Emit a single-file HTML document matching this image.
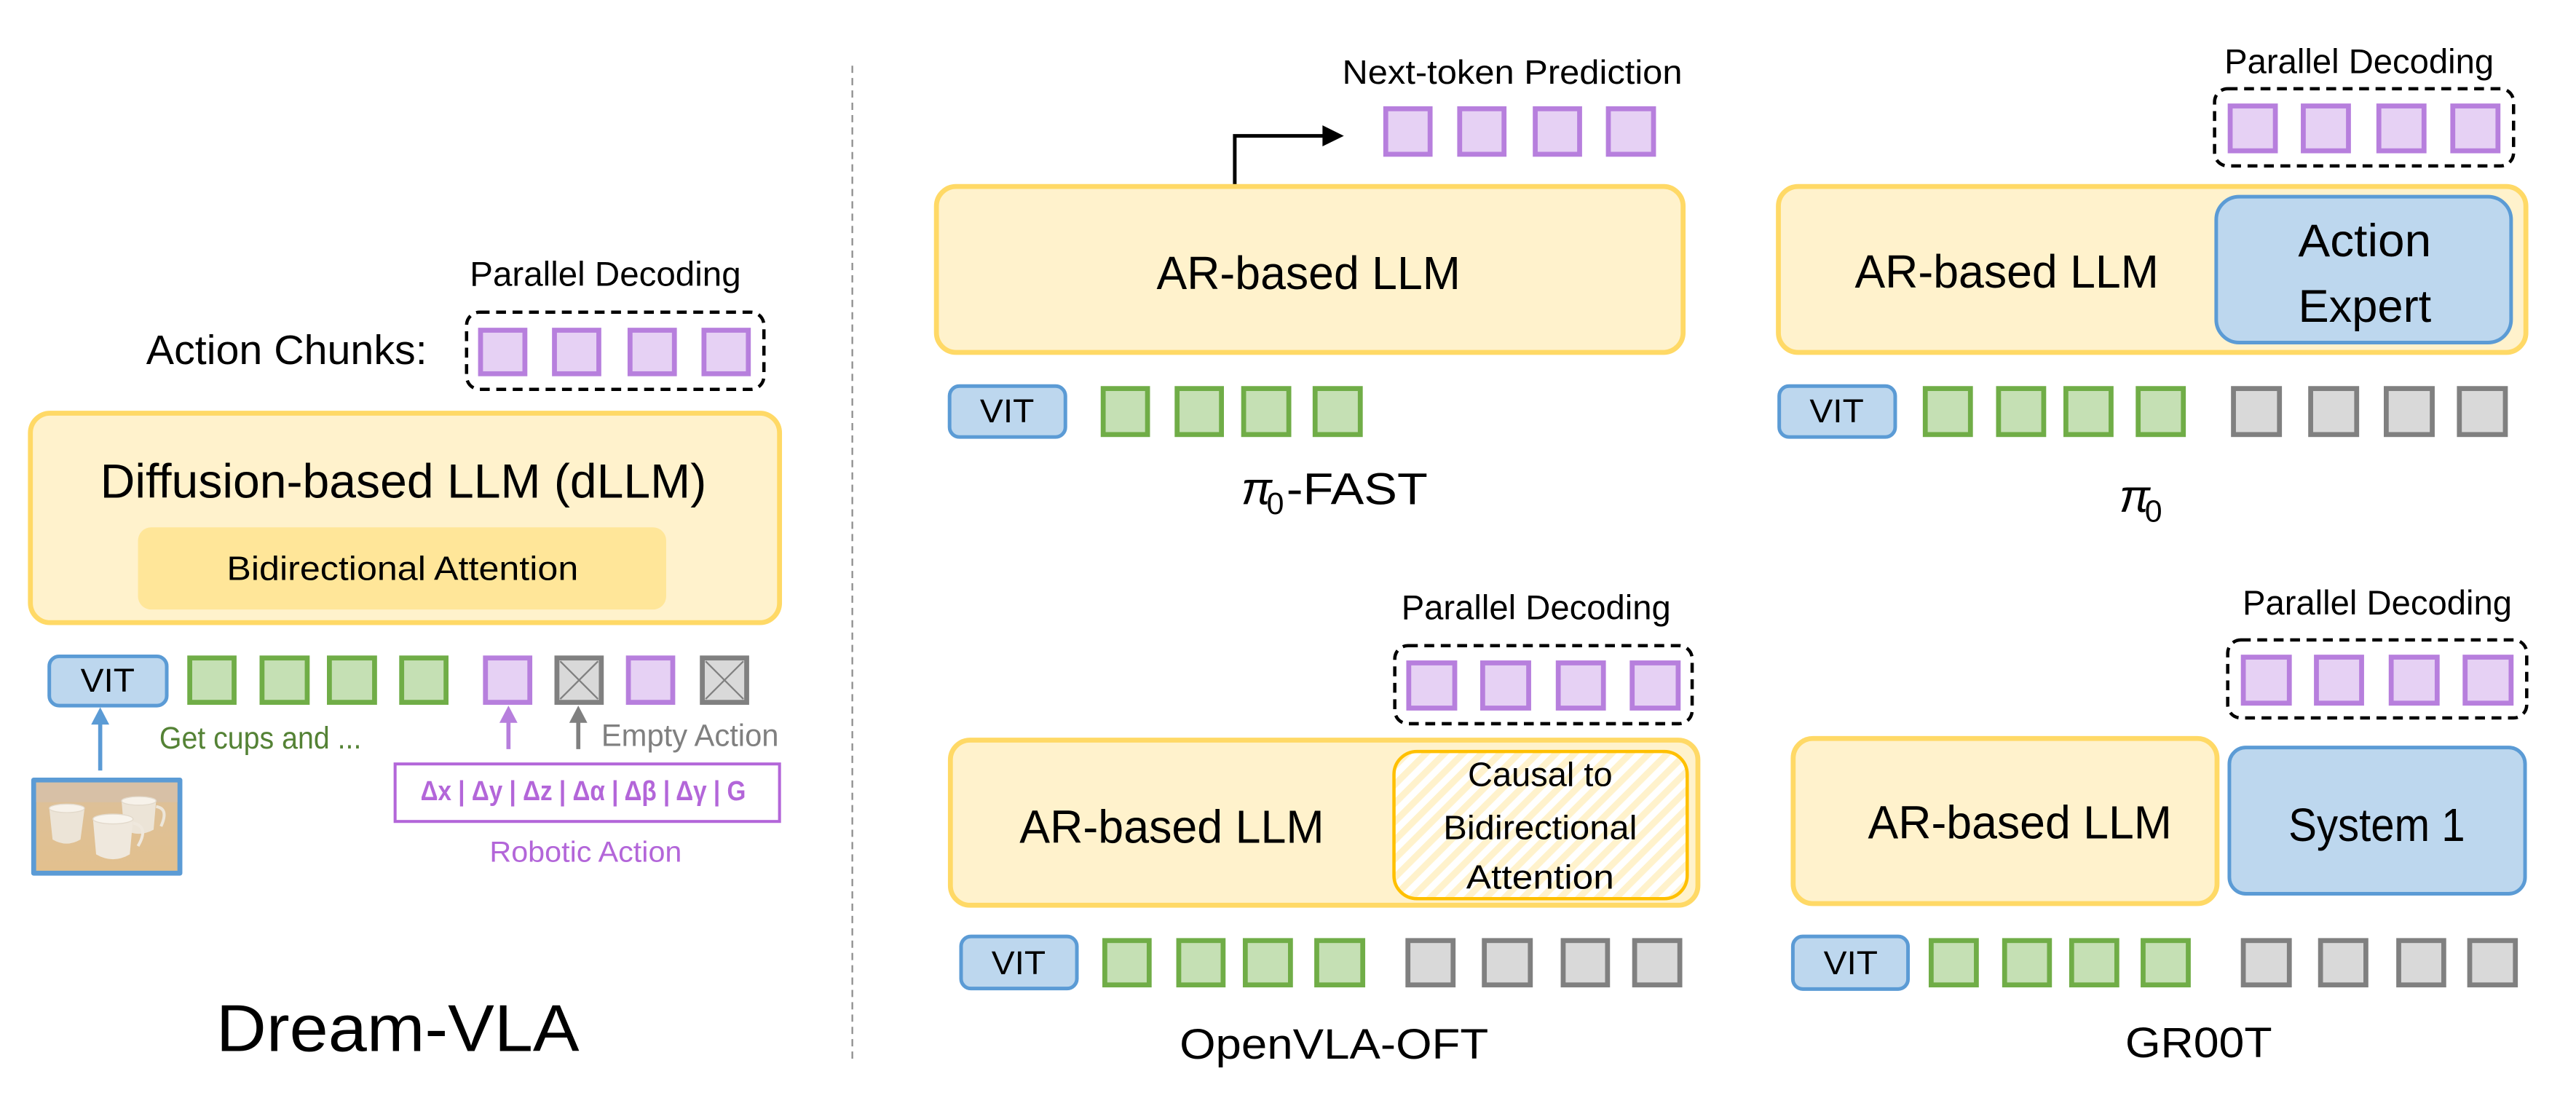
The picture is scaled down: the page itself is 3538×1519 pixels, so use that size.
<!DOCTYPE html>
<html><head><meta charset="utf-8"><style>
html,body{margin:0;padding:0;background:#fff;}
svg{display:block;}
text{font-family:"Liberation Sans Narrow","Liberation Sans",sans-serif;}
</style></head><body>
<svg width="3538" height="1519" viewBox="0 0 1568 673.2" xmlns="http://www.w3.org/2000/svg">
<defs>
<pattern id="hatch" patternUnits="userSpaceOnUse" width="8" height="8" patternTransform="rotate(45)">
<rect width="8" height="8" fill="#ffffff"/>
<rect width="4" height="8" fill="#fff2cc"/>
</pattern>
<linearGradient id="table" x1="0" y1="0" x2="0" y2="1"><stop offset="0" stop-color="#dcc09a"/><stop offset="1" stop-color="#e2c08e"/></linearGradient>
</defs>
<rect width="1568" height="673.2" fill="#fff"/>

<line x1="518.8" y1="40" x2="518.8" y2="646" stroke="#8c8c8c" stroke-width="1" stroke-dasharray="4.4 3.1"/>

<!-- ===== LEFT: Dream-VLA ===== -->
<text x="286" y="174" font-size="21" textLength="165" lengthAdjust="spacingAndGlyphs">Parallel Decoding</text>
<text x="89" y="221.5" font-size="25" textLength="171" lengthAdjust="spacingAndGlyphs">Action Chunks:</text>
<rect x="284" y="190" width="181" height="47" rx="8" fill="none" stroke="#000" stroke-width="2" stroke-dasharray="6 4"/>
<g fill="#e6d1f4" stroke="#b77fdd" stroke-width="3">
<rect x="292.5" y="201" width="27" height="26.5"/>
<rect x="337.5" y="201" width="27" height="26.5"/>
<rect x="383.5" y="201" width="27" height="26.5"/>
<rect x="428.5" y="201" width="27" height="26.5"/>
</g>
<rect x="18.5" y="251.5" width="456" height="127.5" rx="12" fill="#fff2cc" stroke="#ffd966" stroke-width="3"/>
<text x="61" y="303" font-size="29" textLength="369" lengthAdjust="spacingAndGlyphs">Diffusion-based LLM (dLLM)</text>
<rect x="84" y="321" width="321.5" height="50" rx="8" fill="#ffe699"/>
<text x="138" y="353" font-size="20.5" textLength="214" lengthAdjust="spacingAndGlyphs">Bidirectional Attention</text>

<rect x="30" y="399.5" width="71.5" height="30" rx="6" fill="#bdd7ee" stroke="#5b9bd5" stroke-width="2.2"/>
<text x="65.5" y="421" font-size="20" text-anchor="middle" textLength="33" lengthAdjust="spacingAndGlyphs">VIT</text>
<g fill="#c5e0b4" stroke="#70ad47" stroke-width="3">
<rect x="115.5" y="400.5" width="27" height="27"/>
<rect x="159.5" y="400.5" width="27.5" height="27"/>
<rect x="200.5" y="400.5" width="27.5" height="27"/>
<rect x="244.5" y="400.5" width="27" height="27"/>
</g>
<g fill="#e6d1f4" stroke="#b77fdd" stroke-width="3">
<rect x="295.5" y="400.5" width="27" height="27"/>
<rect x="382.5" y="400.5" width="27" height="27"/>
</g>
<g fill="#d9d9d9" stroke="#808080" stroke-width="3">
<rect x="339" y="400.5" width="27" height="27"/>
<rect x="427.5" y="400.5" width="27" height="27"/>
</g>
<g stroke="#808080" stroke-width="1">
<line x1="341" y1="402.5" x2="364" y2="425.5"/><line x1="364" y1="402.5" x2="341" y2="425.5"/>
<line x1="429.5" y1="402.5" x2="452.5" y2="425.5"/><line x1="452.5" y1="402.5" x2="429.5" y2="425.5"/>
</g>
<line x1="61" y1="469" x2="61" y2="438" stroke="#5b9bd5" stroke-width="2.5"/>
<path d="M55.5,441 L61,430.5 L66.5,441 z" fill="#5b9bd5"/>
<line x1="309.5" y1="456" x2="309.5" y2="437" stroke="#b77fdd" stroke-width="2.5"/>
<path d="M304,440 L309.5,429.5 L315,440 z" fill="#b77fdd"/>
<line x1="352" y1="456" x2="352" y2="437" stroke="#808080" stroke-width="2.5"/>
<path d="M346.5,440 L352,429.5 L357.5,440 z" fill="#808080"/>

<text x="97" y="455.5" font-size="19" fill="#548235" textLength="123" lengthAdjust="spacingAndGlyphs">Get cups and ...</text>
<text x="366" y="454" font-size="19" fill="#808080" textLength="108" lengthAdjust="spacingAndGlyphs">Empty Action</text>
<rect x="240.5" y="465" width="234" height="35" fill="#fff" stroke="#b366d9" stroke-width="1.8"/>
<text x="256" y="487" font-size="17" font-weight="bold" fill="#b366d9" textLength="198" lengthAdjust="spacingAndGlyphs">Δx | Δy | Δz | Δα | Δβ | Δγ | G</text>
<text x="298" y="524.6" font-size="17.5" fill="#b366d9" textLength="117" lengthAdjust="spacingAndGlyphs">Robotic Action</text>

<!-- photo -->
<g>
<rect x="19" y="473.3" width="92" height="59.7" rx="1.5" fill="#5b9bd5"/>
<rect x="22" y="476.3" width="86" height="53.7" fill="url(#table)"/>
<rect x="22" y="476.3" width="86" height="12" fill="#d7c0a6"/>
<!-- back right mug -->
<path d="M95,491 Q103,492 98,503" fill="none" stroke="#ede6da" stroke-width="1.8"/>
<path d="M74,487.5 L75.5,505 Q84.5,510 93.5,505 L95,487.5 z" fill="#ece4d7"/>
<ellipse cx="84.5" cy="487.5" rx="10.5" ry="2.6" fill="#f7f2ea" stroke="#e2d9cb" stroke-width="0.6"/>
<!-- left cup -->
<path d="M30,492 L32,511 Q40.5,516 49,511 L51.5,492 z" fill="#ece4d7"/>
<ellipse cx="40.7" cy="492" rx="10.7" ry="2.6" fill="#f7f2ea" stroke="#e2d9cb" stroke-width="0.6"/>
<!-- front mug -->
<path d="M81,501 Q91,503 84,515" fill="none" stroke="#efe8dd" stroke-width="1.8"/>
<path d="M56.6,498.5 L58.5,520 Q68.8,526 79,520 L81,498.5 z" fill="#efe8dd"/>
<ellipse cx="68.8" cy="498.5" rx="12.2" ry="3" fill="#f8f4ed" stroke="#e2d9cb" stroke-width="0.6"/>
</g>

<text x="131.6" y="639.8" font-size="40.5" textLength="221" lengthAdjust="spacingAndGlyphs">Dream-VLA</text>

<!-- ===== pi0-FAST ===== -->
<text x="817" y="51" font-size="20.5" textLength="207" lengthAdjust="spacingAndGlyphs">Next-token Prediction</text>
<g fill="#e6d1f4" stroke="#b77fdd" stroke-width="3">
<rect x="843.5" y="66.2" width="27" height="27.7"/>
<rect x="888.5" y="66.2" width="27" height="27.7"/>
<rect x="934.5" y="66.2" width="27" height="27.7"/>
<rect x="979" y="66.2" width="27.5" height="27.7"/>
</g>
<path d="M751.6,113 L751.6,82.7 L807,82.7" fill="none" stroke="#000" stroke-width="2.2"/>
<path d="M805,76.3 L818,82.7 L805,89.1 z" fill="#000"/>
<rect x="570" y="113.5" width="454.5" height="101" rx="12" fill="#fff2cc" stroke="#ffd966" stroke-width="3"/>
<text x="704" y="176" font-size="28.5" textLength="185" lengthAdjust="spacingAndGlyphs">AR-based LLM</text>
<rect x="578" y="235" width="70.5" height="31" rx="6" fill="#bdd7ee" stroke="#5b9bd5" stroke-width="2.2"/>
<text x="613" y="257" font-size="20" text-anchor="middle" textLength="33" lengthAdjust="spacingAndGlyphs">VIT</text>
<g fill="#c5e0b4" stroke="#70ad47" stroke-width="3">
<rect x="671.5" y="236.5" width="27" height="28"/>
<rect x="716.5" y="236.5" width="27" height="28"/>
<rect x="757" y="236.5" width="27.5" height="28"/>
<rect x="800.5" y="236.5" width="27.5" height="28"/>
</g>
<text x="755.5" y="307" font-size="28" font-family="'Liberation Serif',serif" font-style="italic">π</text>
<text x="771" y="313" font-size="19" font-family="'Liberation Serif',serif">0</text>
<text x="783" y="307" font-size="27" textLength="86" lengthAdjust="spacingAndGlyphs">-FAST</text>

<!-- ===== pi0 ===== -->
<text x="1354" y="44.5" font-size="21" textLength="164" lengthAdjust="spacingAndGlyphs">Parallel Decoding</text>
<rect x="1348" y="54" width="182" height="47" rx="8" fill="none" stroke="#000" stroke-width="2" stroke-dasharray="6 4"/>
<g fill="#e6d1f4" stroke="#b77fdd" stroke-width="3">
<rect x="1357.5" y="64.5" width="27.5" height="27.3"/>
<rect x="1402" y="64.5" width="27.5" height="27.3"/>
<rect x="1448" y="64.5" width="27.5" height="27.3"/>
<rect x="1493" y="64.5" width="27.5" height="27.3"/>
</g>
<rect x="1082.5" y="113.5" width="455" height="101" rx="12" fill="#fff2cc" stroke="#ffd966" stroke-width="3"/>
<rect x="1349" y="119.7" width="179.5" height="88.8" rx="14" fill="#bdd7ee" stroke="#5b9bd5" stroke-width="2.2"/>
<text x="1129" y="175" font-size="28.5" textLength="185" lengthAdjust="spacingAndGlyphs">AR-based LLM</text>
<text x="1439.4" y="156" font-size="28" text-anchor="middle" textLength="81" lengthAdjust="spacingAndGlyphs">Action</text>
<text x="1439.4" y="196" font-size="28" text-anchor="middle" textLength="81" lengthAdjust="spacingAndGlyphs">Expert</text>
<rect x="1083" y="235" width="70.6" height="31" rx="6" fill="#bdd7ee" stroke="#5b9bd5" stroke-width="2.2"/>
<text x="1118" y="257" font-size="20" text-anchor="middle" textLength="33" lengthAdjust="spacingAndGlyphs">VIT</text>
<g fill="#c5e0b4" stroke="#70ad47" stroke-width="3">
<rect x="1171.9" y="236.5" width="27.5" height="28"/>
<rect x="1216.5" y="236.5" width="27.5" height="28"/>
<rect x="1257.5" y="236.5" width="27.5" height="28"/>
<rect x="1301.5" y="236.5" width="27.5" height="28"/>
</g>
<g fill="#d9d9d9" stroke="#808080" stroke-width="3">
<rect x="1359.5" y="236.5" width="28" height="28"/>
<rect x="1406.5" y="236.5" width="28" height="28"/>
<rect x="1452.5" y="236.5" width="28" height="28"/>
<rect x="1497" y="236.5" width="28" height="28"/>
</g>
<text x="1290" y="311.6" font-size="28" font-family="'Liberation Serif',serif" font-style="italic">π</text>
<text x="1305.5" y="317.6" font-size="19" font-family="'Liberation Serif',serif">0</text>

<!-- ===== OpenVLA-OFT ===== -->
<text x="853" y="377" font-size="21" textLength="164" lengthAdjust="spacingAndGlyphs">Parallel Decoding</text>
<rect x="849" y="393" width="181" height="47.5" rx="8" fill="none" stroke="#000" stroke-width="2" stroke-dasharray="6 4"/>
<g fill="#e6d1f4" stroke="#b77fdd" stroke-width="3">
<rect x="857.5" y="403.5" width="28" height="27.5"/>
<rect x="902.5" y="403.5" width="28" height="27.5"/>
<rect x="948.5" y="403.5" width="27.5" height="27.5"/>
<rect x="993.5" y="403.5" width="28" height="27.5"/>
</g>
<rect x="578.5" y="450.5" width="455" height="100.5" rx="12" fill="#fff2cc" stroke="#ffd966" stroke-width="3"/>
<rect x="848.5" y="457.4" width="178.5" height="89.6" rx="14" fill="url(#hatch)" stroke="#ffc000" stroke-width="2"/>
<text x="620.6" y="513" font-size="28.5" textLength="185.4" lengthAdjust="spacingAndGlyphs">AR-based LLM</text>
<text x="937.5" y="478.4" font-size="20.5" text-anchor="middle" textLength="88" lengthAdjust="spacingAndGlyphs">Causal to</text>
<text x="937.5" y="510.7" font-size="20.5" text-anchor="middle" textLength="118" lengthAdjust="spacingAndGlyphs">Bidirectional</text>
<text x="937.5" y="541" font-size="20.5" text-anchor="middle" textLength="90" lengthAdjust="spacingAndGlyphs">Attention</text>
<rect x="585" y="570" width="70.5" height="31.7" rx="6" fill="#bdd7ee" stroke="#5b9bd5" stroke-width="2.2"/>
<text x="620" y="593" font-size="20" text-anchor="middle" textLength="33" lengthAdjust="spacingAndGlyphs">VIT</text>
<g fill="#c5e0b4" stroke="#70ad47" stroke-width="3">
<rect x="672.5" y="572.5" width="27" height="27"/>
<rect x="717.5" y="572.5" width="27" height="27"/>
<rect x="758" y="572.5" width="27.5" height="27"/>
<rect x="801.5" y="572.5" width="28" height="27"/>
</g>
<g fill="#d9d9d9" stroke="#808080" stroke-width="3">
<rect x="857" y="572.5" width="27.5" height="27"/>
<rect x="903.5" y="572.5" width="28" height="27"/>
<rect x="951.5" y="572.5" width="27" height="27"/>
<rect x="995" y="572.5" width="27.5" height="27"/>
</g>
<text x="718" y="644.5" font-size="26" textLength="188" lengthAdjust="spacingAndGlyphs">OpenVLA-OFT</text>

<!-- ===== GR00T ===== -->
<text x="1365" y="374" font-size="21" textLength="164" lengthAdjust="spacingAndGlyphs">Parallel Decoding</text>
<rect x="1356" y="389.5" width="182" height="47.5" rx="8" fill="none" stroke="#000" stroke-width="2" stroke-dasharray="6 4"/>
<g fill="#e6d1f4" stroke="#b77fdd" stroke-width="3">
<rect x="1365.5" y="400" width="28" height="28"/>
<rect x="1410" y="400" width="27.5" height="28"/>
<rect x="1455.5" y="400" width="28" height="28"/>
<rect x="1500.5" y="400" width="28" height="28"/>
</g>
<rect x="1091.5" y="449.5" width="258" height="100.5" rx="12" fill="#fff2cc" stroke="#ffd966" stroke-width="3"/>
<rect x="1357" y="455" width="180" height="89" rx="10" fill="#bdd7ee" stroke="#5b9bd5" stroke-width="2.2"/>
<text x="1137" y="510.3" font-size="28.5" textLength="185" lengthAdjust="spacingAndGlyphs">AR-based LLM</text>
<text x="1393" y="511.8" font-size="28.5" textLength="107.5" lengthAdjust="spacingAndGlyphs">System 1</text>
<rect x="1091.3" y="570" width="70.1" height="32" rx="6" fill="#bdd7ee" stroke="#5b9bd5" stroke-width="2.2"/>
<text x="1126.5" y="593" font-size="20" text-anchor="middle" textLength="33" lengthAdjust="spacingAndGlyphs">VIT</text>
<g fill="#c5e0b4" stroke="#70ad47" stroke-width="3">
<rect x="1175.5" y="572.5" width="27.5" height="27"/>
<rect x="1220.2" y="572.5" width="27.3" height="27"/>
<rect x="1261" y="572.5" width="27.5" height="27"/>
<rect x="1304.5" y="572.5" width="27.5" height="27"/>
</g>
<g fill="#d9d9d9" stroke="#808080" stroke-width="3">
<rect x="1365.5" y="572.5" width="28" height="27"/>
<rect x="1412.5" y="572.5" width="27.6" height="27"/>
<rect x="1460.1" y="572.5" width="27.4" height="27"/>
<rect x="1503.3" y="572.5" width="27.8" height="27"/>
</g>
<text x="1293.6" y="643.4" font-size="26" textLength="89.4" lengthAdjust="spacingAndGlyphs">GR00T</text>
</svg>
</body></html>
